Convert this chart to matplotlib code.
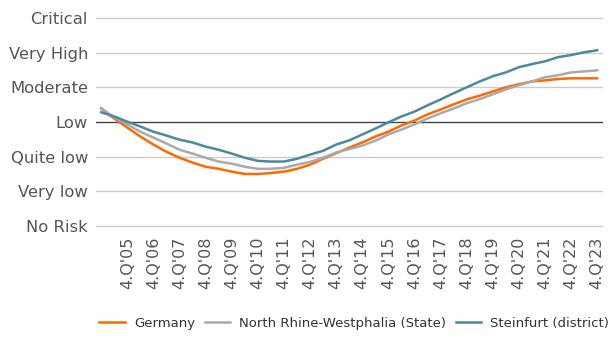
import matplotlib.pyplot as plt
import numpy as np

# risk levels, bottom to top
levels = ["No Risk", "Very low", "Quite low", "Low", "Moderate", "Very High", "Critical"]

# half-yearly values, 4.Q'04 .. 4.Q'23
periods = []
for y in range(4, 24):
    if y > 4:
        periods.append("2.Q'%02d" % y)
    periods.append("4.Q'%02d" % y)

germany = [3.39, 3.10, 2.84, 2.58, 2.35, 2.14, 1.97, 1.83, 1.71, 1.65,
           1.57, 1.50, 1.50, 1.53, 1.57, 1.65, 1.77, 1.94, 2.10, 2.26,
           2.41, 2.58, 2.72, 2.90, 3.04, 3.22, 3.36, 3.51, 3.65, 3.76,
           3.88, 4.00, 4.09, 4.17, 4.20, 4.24, 4.26, 4.26, 4.26]
nrw = [3.40, 3.13, 2.93, 2.72, 2.55, 2.38, 2.20, 2.09, 1.97, 1.86,
       1.80, 1.71, 1.65, 1.65, 1.68, 1.77, 1.85, 1.97, 2.12, 2.22,
       2.32, 2.46, 2.64, 2.78, 2.93, 3.10, 3.25, 3.39, 3.54, 3.66,
       3.80, 3.94, 4.06, 4.17, 4.29, 4.35, 4.43, 4.46, 4.49]
steinfurt = [3.28, 3.16, 3.01, 2.87, 2.72, 2.61, 2.49, 2.41, 2.29, 2.20,
             2.09, 1.97, 1.88, 1.86, 1.86, 1.94, 2.06, 2.17, 2.35, 2.47,
             2.64, 2.81, 2.99, 3.16, 3.30, 3.48, 3.65, 3.83, 4.00, 4.17,
             4.32, 4.43, 4.58, 4.67, 4.75, 4.87, 4.93, 5.01, 5.07]

x = np.arange(len(periods)) / 2.0
tick_pos = [x[i] for i in range(1, len(periods)) if periods[i].startswith("4.Q")]
tick_lab = [p for p in periods[1:] if p.startswith("4.Q")]

fig = plt.figure(figsize=(6.13, 3.38), dpi=100)
ax = fig.add_axes([0.157, 0.325, 0.827, 0.628])

for i in range(len(levels)):
    if levels[i] == "Low":
        ax.axhline(i, color="#444444", linewidth=1.0, zorder=1)
    else:
        ax.axhline(i, color="#cccccc", linewidth=1.0, zorder=1)

ax.plot(x, germany, color="#ff6a00", linewidth=1.8, label="Germany", zorder=3)
ax.plot(x, nrw, color="#aaaaaa", linewidth=1.8, label="North Rhine-Westphalia (State)", zorder=3)
ax.plot(x, steinfurt, color="#4a8a9e", linewidth=1.8, label="Steinfurt (district)", zorder=4)

ax.set_ylim(-0.06, 6.06)
ax.set_xlim(-0.19, 19.23)
ax.set_yticks(range(len(levels)))
ax.set_yticklabels(levels, fontsize=11.8, color="#555555")
ax.set_xticks(tick_pos)
ax.set_xticklabels(tick_lab, rotation=90, fontsize=11.5, color="#555555")
ax.tick_params(length=0, pad=6)
ax.tick_params(axis="x", pad=6)
for s in ax.spines.values():
    s.set_visible(False)

fig.legend(loc="lower center", bbox_to_anchor=(0.578, -0.01), ncol=3, frameon=False,
           fontsize=9.5, handlelength=1.9, columnspacing=0.75, handletextpad=0.7,
           labelcolor="#333333")

fig.savefig("out.png", dpi=100)
